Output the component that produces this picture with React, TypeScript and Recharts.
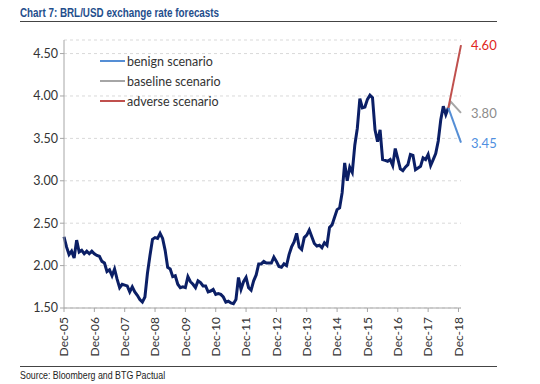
import React from "react";
import { LineChart, Line, XAxis, YAxis, CartesianGrid, Legend } from "recharts";

// BRL per USD, month-end, Dec-05 (m = 0) to Aug-18 (m = 152)
const actualRate = [
  2.34, 2.22, 2.13, 2.17, 2.09, 2.3, 2.16, 2.18, 2.14, 2.17, 2.14, 2.17,
  2.14, 2.12, 2.11, 2.05, 2.03, 1.93, 1.95, 1.88, 1.96, 1.84, 1.74, 1.78,
  1.77, 1.76, 1.69, 1.75, 1.69, 1.65, 1.6, 1.57, 1.63, 1.91, 2.12, 2.31,
  2.33, 2.32, 2.38, 2.32, 2.18, 1.98, 1.96, 1.87, 1.88, 1.78, 1.74, 1.75,
  1.74, 1.87, 1.81, 1.78, 1.74, 1.82, 1.8, 1.76, 1.76, 1.69, 1.7, 1.72,
  1.66, 1.67, 1.66, 1.63, 1.57, 1.58, 1.56, 1.55, 1.6, 1.86, 1.72, 1.81,
  1.86, 1.74, 1.71, 1.82, 1.89, 2.02, 2.02, 2.05, 2.03, 2.03, 2.03, 2.1,
  2.05, 1.99, 1.98, 2.02, 2.0, 2.13, 2.22, 2.28, 2.38, 2.22, 2.19, 2.33,
  2.36, 2.42, 2.34, 2.26, 2.23, 2.24, 2.21, 2.27, 2.24, 2.45, 2.48, 2.57,
  2.66, 2.68, 2.86, 3.21, 3.0, 3.16, 3.1, 3.42, 3.62, 3.97, 3.86, 3.87,
  3.96, 4.01, 3.98, 3.6, 3.46, 3.6, 3.25, 3.24, 3.23, 3.25, 3.18, 3.38,
  3.26, 3.14, 3.12, 3.16, 3.19, 3.31, 3.3, 3.13, 3.15, 3.17, 3.27, 3.25,
  3.31, 3.18, 3.25, 3.32, 3.47, 3.72, 3.88, 3.78, 3.86,
];

// scenario paths: month index -> rate
const forecastMonths = [152, 153, 157];
const benign = [3.86, null, 3.45];
const baseline = [3.86, 3.93, 3.8];
const adverse = [3.86, null, 4.6];

const xTicks = [0, 12, 24, 36, 48, 60, 72, 84, 96, 108, 120, 132, 144, 156];
const xTickLabels = ["Dec-05", "Dec-06", "Dec-07", "Dec-08", "Dec-09", "Dec-10", "Dec-11",
  "Dec-12", "Dec-13", "Dec-14", "Dec-15", "Dec-16", "Dec-17", "Dec-18"];
const yTicks = [1.5, 2, 2.5, 3, 3.5, 4, 4.5];

const legendItems = [
  { key: "benign", name: "benign scenario", color: "#558ED5" },
  { key: "baseline", name: "baseline scenario", color: "#A6A6A6" },
  { key: "adverse", name: "adverse scenario", color: "#C0504D" },
];

const chartData: any[] = actualRate.map((v, i) => ({ m: i, actual: v }));
forecastMonths.forEach((m, i) => {
  let row = chartData.find((r) => r.m === m);
  if (!row) {
    row = { m };
    chartData.push(row);
  }
  if (benign[i] != null) row.benign = benign[i];
  if (baseline[i] != null) row.baseline = baseline[i];
  if (adverse[i] != null) row.adverse = adverse[i];
});

const FONT = "Lato, 'Open Sans', sans-serif";
const NARROW = "'Liberation Sans', Arial, sans-serif";

const DateTick = ({ x, y, payload }: any) => {
  const idx = xTicks.indexOf(payload.value);
  return (
    <g transform={`translate(${x},${y + 3})`}>
      <text transform="rotate(-90)" textAnchor="end" dy="0.36em" fontSize={12} fill="#333" fontFamily={FONT}>
        {xTickLabels[idx]}
      </text>
    </g>
  );
};

const endLabel = (color: string, lastIdx: number) => (props: any) => {
  if (props.index !== lastIdx) return null;
  return (
    <text x={props.x + 10} y={props.y + 5} fontSize={13} fill={color} fontFamily={FONT}>
      {Number(props.value).toFixed(2)}
    </text>
  );
};

const LegendBox = () => (
  <div style={{ fontFamily: FONT, fontSize: 12.5, color: "#333" }}>
    {legendItems.map((it) => (
      <div key={it.key} style={{ display: "flex", alignItems: "center", height: 20 }}>
        <span style={{ display: "inline-block", width: 25, height: 2.5, background: it.color, marginRight: 2 }} />
        <span>{it.name}</span>
      </div>
    ))}
  </div>
);

export default function App() {
  const n = chartData.length;
  return (
    <div style={{ position: "absolute", left: 0, top: 0, width: 540, height: 384, background: "#fff" }}>
      <LineChart width={540} height={384} data={chartData} margin={{ top: 40, right: 79, bottom: 26, left: 0 }}>
        <CartesianGrid vertical={false} stroke="#D9D9D9" strokeDasharray="3 3" />
        <XAxis
          dataKey="m"
          type="number"
          domain={[0, 157]}
          ticks={xTicks}
          interval={0}
          height={50}
          tick={<DateTick />}
          tickSize={4}
          axisLine={{ stroke: "#A6A6A6" }}
          tickLine={{ stroke: "#A6A6A6" }}
        />
        <YAxis
          type="number"
          domain={[1.5, 4.66]}
          ticks={yTicks}
          interval={0}
          width={64}
          tickSize={4}
          tickFormatter={(v: number) => v.toFixed(2)}
          tick={{ fontSize: 12.5, fill: "#333", fontFamily: FONT }}
          axisLine={{ stroke: "#A6A6A6" }}
          tickLine={{ stroke: "#A6A6A6" }}
        />
        <Legend
          content={<LegendBox />}
          layout="vertical"
          verticalAlign="middle"
          align="center"
          wrapperStyle={{ top: 51, left: 100, width: "auto" }}
        />
        <Line dataKey="actual" stroke="#0B1F66" strokeWidth={3} dot={false} isAnimationActive={false} />
        <Line dataKey="benign" stroke="#558ED5" strokeWidth={2} dot={false} connectNulls
          label={endLabel("#4F8FE0", n - 1)} isAnimationActive={false} />
        <Line dataKey="baseline" stroke="#A6A6A6" strokeWidth={2} dot={false} connectNulls
          label={endLabel("#8C8C8C", n - 1)} isAnimationActive={false} />
        <Line dataKey="adverse" stroke="#C0504D" strokeWidth={2} dot={false} connectNulls
          label={endLabel("#E0261C", n - 1)} isAnimationActive={false} />
      </LineChart>
      <div style={{ position: "absolute", left: 20, top: 6, fontFamily: NARROW, fontWeight: "bold", fontSize: 12,
        color: "#1F4E8C", transform: "scaleX(0.82)", transformOrigin: "left top", whiteSpace: "nowrap" }}>
        Chart 7: BRL/USD exchange rate forecasts
      </div>
      <div style={{ position: "absolute", left: 20, top: 21, width: 477, height: 1, background: "#444" }} />
      <div style={{ position: "absolute", left: 20, top: 366, width: 477, height: 1, background: "#444" }} />
      <div style={{ position: "absolute", left: 20, top: 369, fontFamily: NARROW, fontSize: 10.5, color: "#222",
        transform: "scaleX(0.84)", transformOrigin: "left top", whiteSpace: "nowrap" }}>
        Source: Bloomberg and BTG Pactual
      </div>
    </div>
  );
}
